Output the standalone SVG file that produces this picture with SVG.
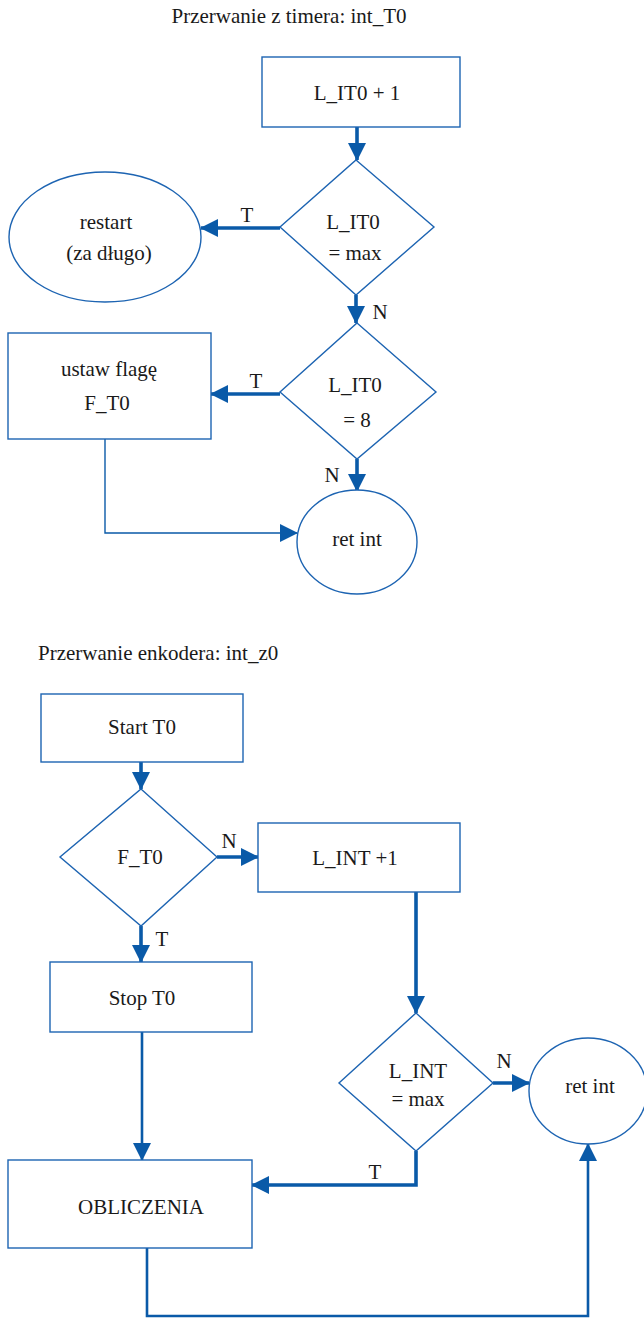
<svg xmlns="http://www.w3.org/2000/svg" width="644" height="1319" viewBox="0 0 644 1319">
<style>
text{font-family:"Liberation Serif","Times New Roman",serif;font-size:21px;fill:#1a1a1a;text-anchor:middle}
.t{text-anchor:start}
.s{fill:#fff;stroke:#1d64b2;stroke-width:1.4}
.c{fill:none;stroke:#0a5aa8;stroke-linejoin:miter}
.k{stroke-width:3.6}
.m{stroke-width:2.6}
.n{stroke-width:1.4}
.a{marker-end:url(#ah)}
</style>
<defs>
<marker id="ah" markerUnits="userSpaceOnUse" markerWidth="18" markerHeight="18" refX="17" refY="9" orient="auto">
<path d="M0,0 L18,9 L0,18 Z" fill="#0a5aa8"/>
</marker>
</defs>
<text x="289" y="23">Przerwanie z timera: int_T0</text>
<text class="t" x="38" y="660">Przerwanie enkodera: int_z0</text>
<g id="connectors">
<path class="c k a" d="M357,127 L357,160"/>
<path class="c k a" d="M280,228 L201,228"/>
<path class="c k a" d="M356,295 L356,323"/>
<path class="c k a" d="M280,394 L211,394"/>
<path class="c k a" d="M357,459 L357,491"/>
<path class="c n a" d="M105,439 L105,533 L297,533"/>
<path class="c k a" d="M141,762 L141,789"/>
<path class="c k a" d="M217,857 L258,857"/>
<path class="c k a" d="M141,926 L141,962"/>
<path class="c k a" d="M416,892 L416,1013"/>
<path class="c k a" d="M493,1083 L529,1083"/>
<path class="c k a" d="M416,1151 L416,1185 L252,1185"/>
<path class="c m a" d="M142,1032 L142,1160"/>
<path class="c m a" d="M147,1248 L147,1316 L588,1316 L588,1144"/>
<text x="247" y="222">T</text>
<text x="380" y="319">N</text>
<text x="256" y="388">T</text>
<text x="332" y="482">N</text>
<text x="229" y="848">N</text>
<text x="162" y="946">T</text>
<text x="504" y="1068">N</text>
<text x="375" y="1179">T</text>
</g>
<g id="boxA"><rect class="s" x="262" y="57" width="198" height="70"/><text x="357" y="100">L_IT0 + 1</text></g>
<g id="decB"><polygon class="s" points="356,160 434,227 356,295 280,227"/><text x="353" y="229">L_IT0</text><text x="355" y="260">= max</text></g>
<g id="restart"><ellipse class="s" cx="105" cy="237" rx="96" ry="65"/><text x="106" y="229">restart</text><text x="109" y="260">(za długo)</text></g>
<g id="decD"><polygon class="s" points="357,323 436,392 357,459 280,392"/><text x="355" y="392">L_IT0</text><text x="357" y="427">= 8</text></g>
<g id="boxE"><rect class="s" x="8" y="333" width="203" height="106"/><text x="109" y="376">ustaw flagę</text><text x="107" y="410">F_T0</text></g>
<g id="retF"><ellipse class="s" cx="357" cy="542" rx="60" ry="52"/><text x="357" y="546">ret int</text></g>
<g id="boxG"><rect class="s" x="41" y="694" width="202" height="68"/><text x="142" y="734">Start T0</text></g>
<g id="decH"><polygon class="s" points="141,789 217,857 141,926 60,857"/><text x="140" y="864">F_T0</text></g>
<g id="boxI"><rect class="s" x="258" y="823" width="202" height="69"/><text x="355" y="865">L_INT +1</text></g>
<g id="boxJ"><rect class="s" x="50" y="962" width="202" height="70"/><text x="142" y="1005">Stop T0</text></g>
<g id="decK"><polygon class="s" points="416,1013 493,1083 416,1151 339,1083"/><text x="418" y="1078">L_INT</text><text x="418" y="1106">= max</text></g>
<g id="retL"><ellipse class="s" cx="588" cy="1091" rx="59" ry="53"/><text x="590" y="1093">ret int</text></g>
<g id="boxM"><rect class="s" x="8" y="1160" width="244" height="88"/><text x="141" y="1214">OBLICZENIA</text></g>
</svg>
